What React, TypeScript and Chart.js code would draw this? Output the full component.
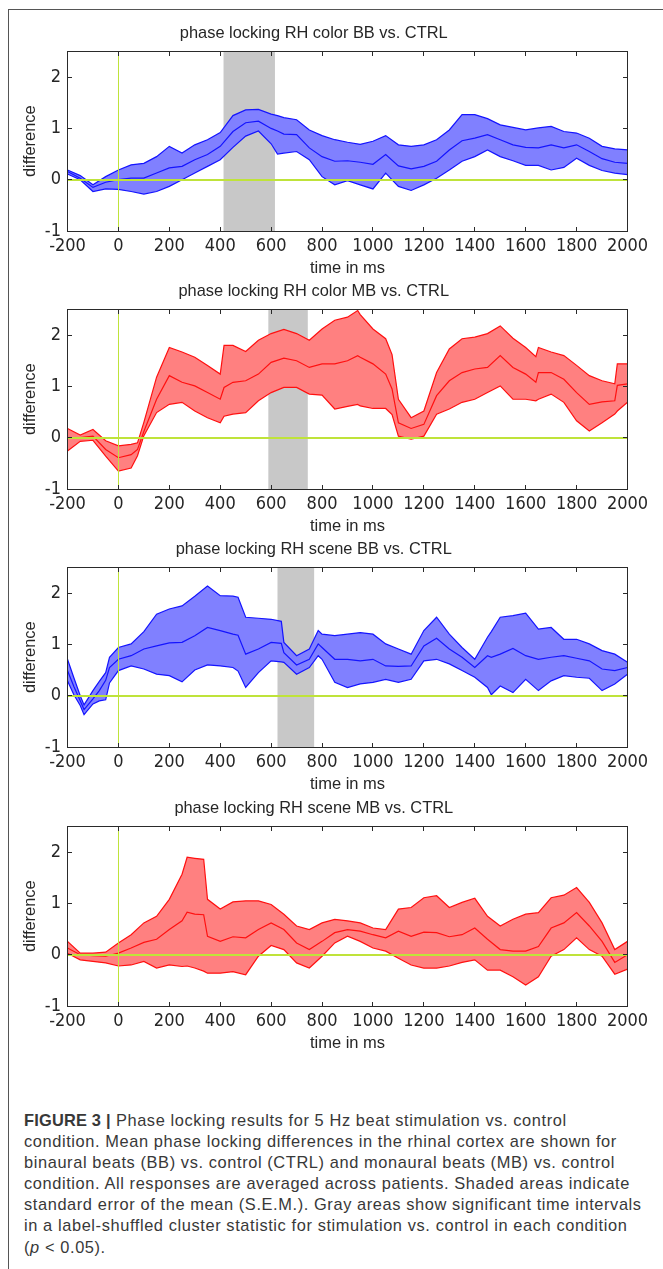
import React, { useEffect, useRef } from 'react';
import { Chart, registerables } from 'chart.js';

Chart.register(...registerables);

// ---------- data ----------
const TIMES = [
  -200, -150, -100, -50, 0, 50, 100, 150, 200, 250, 300, 350, 400, 450, 500, 550, 600, 650, 700, 750, 800, 850,
  900, 950, 1000, 1050, 1100, 1150, 1200, 1250, 1300, 1350, 1400, 1450, 1500, 1550, 1600, 1650, 1700, 1750, 1800,
  1850, 1900, 1950, 2000,
];

// Panel 1: phase locking RH color BB vs. CTRL
const P1_UPPER = [
  0.19, 0.08, -0.1, 0.06, 0.19, 0.29, 0.32, 0.45, 0.65, 0.52, 0.68, 0.78, 0.92, 1.25, 1.36, 1.37, 1.28, 1.21, 1.17,
  0.97, 0.86, 0.78, 0.73, 0.69, 0.75, 0.86, 0.68, 0.65, 0.68, 0.78, 0.97, 1.27, 1.27, 1.19, 1.07, 1.02, 0.97, 1.01,
  1.04, 0.94, 0.91, 0.81, 0.65, 0.6, 0.58,
];
const P1_MEAN = [
  0.16, 0.03, -0.15, -0.05, 0.0, 0.03, 0.03, 0.13, 0.23, 0.26, 0.39, 0.49, 0.65, 0.94, 1.11, 1.14, 1.0, 0.89, 0.88,
  0.62, 0.45, 0.36, 0.37, 0.34, 0.3, 0.49, 0.27, 0.21, 0.26, 0.36, 0.58, 0.76, 0.81, 0.88, 0.78, 0.68, 0.63, 0.62,
  0.68, 0.62, 0.68, 0.55, 0.41, 0.34, 0.32,
];
const P1_LOWER = [
  0.11, 0.0, -0.23, -0.18, -0.19, -0.23, -0.28, -0.23, -0.13, 0.0, 0.13, 0.26, 0.39, 0.63, 0.85, 0.95, 0.7, 0.52,
  0.55, 0.39, 0.06, -0.1, -0.02, -0.1, -0.18, 0.13, -0.13, -0.21, -0.1, 0.03, 0.19, 0.36, 0.45, 0.58, 0.45, 0.37,
  0.28, 0.28, 0.19, 0.24, 0.42, 0.28, 0.18, 0.13, 0.1,
];
const P1_EXTRA_TIMES = [625];
const P1_EXTRA_UPPER = [1.25];
const P1_EXTRA_MEAN = [0.95];
const P1_EXTRA_LOWER = [0.5];

// Panel 2: phase locking RH color MB vs. CTRL
const P2_UPPER = [
  0.18, 0.05, 0.16, -0.06, -0.16, -0.13, 0.3, 1.18, 1.76, 1.67, 1.57, 1.41, 1.24, 1.8, 1.68, 1.9, 2.03, 2.11, 2.03,
  1.9, 2.12, 2.29, 2.35, 2.4, 2.12, 1.93, 0.75, 0.39, 0.52, 1.27, 1.73, 1.93, 1.96, 2.03, 2.18, 1.94, 1.76, 1.76,
  1.67, 1.6, 1.41, 1.21, 1.11, 1.05, 1.44,
];
const P2_MEAN = [
  0.0, 0.0, 0.03, -0.23, -0.39, -0.33, 0.12, 0.75, 1.21, 1.08, 1.01, 0.88, 0.75, 1.08, 1.11, 1.24, 1.47, 1.55, 1.5,
  1.37, 1.44, 1.44, 1.5, 1.57, 1.44, 1.24, 0.29, 0.18, 0.26, 0.82, 1.11, 1.27, 1.34, 1.37, 1.6, 1.37, 1.24, 1.27,
  1.27, 1.14, 0.88, 0.65, 0.7, 0.72, 1.05,
];
const P2_LOWER = [
  -0.26, -0.07, -0.05, -0.36, -0.65, -0.59, 0.04, 0.49, 0.65, 0.69, 0.52, 0.39, 0.29, 0.46, 0.49, 0.72, 0.88, 0.98,
  0.98, 0.85, 0.83, 0.56, 0.61, 0.62, 0.57, 0.57, 0.03, -0.03, 0.03, 0.46, 0.56, 0.69, 0.75, 0.88, 1.01, 0.75, 0.75,
  0.75, 0.85, 0.69, 0.33, 0.13, 0.29, 0.46, 0.69,
];
const P2_EXTRA_TIMES = [75, 415, 940, 1075, 1640, 1960];
const P2_EXTRA_UPPER = [-0.1, 1.8, 2.48, 1.62, 1.58, 1.44];
const P2_EXTRA_MEAN = [-0.23, 0.98, 1.6, 0.95, 1.08, 1.02];
const P2_EXTRA_LOWER = [-0.35, 0.42, 0.65, 0.45, 0.72, 0.52];

// Panel 3: phase locking RH scene BB vs. CTRL
const P3_UPPER = [
  0.71, 0.0, 0.1, 0.45, 0.94, 1.01, 1.25, 1.59, 1.69, 1.75, 1.94, 2.14, 1.95, 1.94, 1.53, 1.51, 1.49, 1.04, 0.78,
  0.91, 1.2, 1.17, 1.2, 1.23, 1.2, 1.01, 0.91, 0.81, 1.27, 1.53, 1.2, 0.94, 0.71, 1.14, 1.53, 1.56, 1.61, 1.3, 1.33,
  1.1, 1.1, 1.01, 0.88, 0.81, 0.65,
];
const P3_MEAN = [
  0.49, -0.1, -0.06, 0.3, 0.71, 0.78, 0.91, 0.97, 1.03, 1.04, 1.17, 1.33, 1.27, 1.2, 0.81, 0.91, 1.04, 0.84, 0.6,
  0.71, 0.94, 0.71, 0.71, 0.68, 0.71, 0.58, 0.57, 0.58, 0.97, 1.12, 0.91, 0.75, 0.55, 0.78, 0.81, 0.92, 0.78, 0.71,
  0.75, 0.78, 0.73, 0.68, 0.52, 0.49, 0.55,
];
const P3_LOWER = [
  0.29, -0.19, -0.16, -0.08, 0.49, 0.58, 0.52, 0.42, 0.39, 0.27, 0.5, 0.6, 0.58, 0.55, 0.16, 0.45, 0.68, 0.65, 0.42,
  0.55, 0.71, 0.26, 0.16, 0.23, 0.26, 0.32, 0.26, 0.32, 0.68, 0.71, 0.62, 0.49, 0.36, 0.16, 0.19, 0.06, 0.32, 0.1,
  0.29, 0.39, 0.36, 0.34, 0.1, 0.23, 0.42,
];
const P3_EXTRA_TIMES = [-175, -135, -75, -35, 470, 640, 785, 1465];
const P3_EXTRA_UPPER = [0.35, -0.18, 0.28, 0.75, 1.92, 1.45, 1.27, 1.25];
const P3_EXTRA_MEAN = [0.18, -0.27, 0.1, 0.55, 1.18, 1.02, 1.01, 0.75];
const P3_EXTRA_LOWER = [0.02, -0.37, -0.1, 0.25, 0.48, 0.66, 0.78, 0.02];

// Panel 4: phase locking RH scene MB vs. CTRL
const P4_UPPER = [
  0.26, 0.03, 0.03, 0.05, 0.23, 0.39, 0.62, 0.75, 1.08, 1.57, 1.88, 1.08, 0.89, 1.03, 1.05, 1.05, 0.98, 0.79, 0.56,
  0.49, 0.62, 0.69, 0.66, 0.62, 0.52, 0.49, 0.89, 0.92, 1.11, 1.15, 0.92, 1.02, 1.1, 0.75, 0.56, 0.69, 0.79, 0.82,
  1.11, 1.16, 1.31, 1.02, 0.62, 0.1, 0.26,
];
const P4_MEAN = [
  0.13, 0.0, -0.02, -0.03, 0.03, 0.13, 0.24, 0.3, 0.49, 0.66, 0.79, 0.36, 0.26, 0.35, 0.33, 0.49, 0.62, 0.49, 0.23,
  0.1, 0.26, 0.43, 0.49, 0.46, 0.39, 0.33, 0.46, 0.36, 0.44, 0.43, 0.35, 0.39, 0.52, 0.3, 0.1, 0.07, 0.07, 0.16,
  0.52, 0.62, 0.82, 0.56, 0.26, -0.15, 0.0,
];
const P4_LOWER = [
  0.03, -0.1, -0.13, -0.16, -0.22, -0.2, -0.13, -0.26, -0.2, -0.23, -0.26, -0.36, -0.36, -0.33, -0.39, -0.03, 0.18,
  0.1, -0.16, -0.26, -0.03, 0.23, 0.36, 0.26, 0.13, 0.07, -0.07, -0.2, -0.26, -0.26, -0.22, -0.15, -0.1, -0.3, -0.3,
  -0.43, -0.59, -0.43, -0.03, 0.1, 0.33, 0.1, -0.03, -0.38, -0.28,
];
const P4_EXTRA_TIMES = [270, 335];
const P4_EXTRA_UPPER = [1.9, 1.86];
const P4_EXTRA_MEAN = [0.83, 0.78];
const P4_EXTRA_LOWER = [-0.22, -0.32];

// significant intervals (ms)
const BAND_P1 = [413, 615];
const BAND_P2 = [589, 744];
const BAND_P3 = [625, 769];

const TITLES = [
  'phase locking RH color BB vs. CTRL',
  'phase locking RH color MB vs. CTRL',
  'phase locking RH scene BB vs. CTRL',
  'phase locking RH scene MB vs. CTRL',
];
const X_MIN = -200;
const X_MAX = 2000;
const X_STEP = 200;
const Y_MIN = -1;
const Y_MAX = 2.5;
const Y_STEP = 1;
const X_LABEL = 'time in ms';
const Y_LABEL = 'difference';

// ---------- styles ----------
const BLUE_LINE = '#1414ff';
const BLUE_FILL = '#8080ff';
const RED_LINE = '#ff1010';
const RED_FILL = '#ff8080';
const GREEN = '#bfe33a';
const GRAY_BAND = '#c8c8c8';
const AXIS_COLOR = '#2a2a2a';
const TEXT_COLOR = '#262626';
const SANS = "'Liberation Sans', Arial, Helvetica, sans-serif";
const NARROW = "'Liberation Sans Narrow', 'Arial Narrow', 'DejaVu Sans Condensed', sans-serif";

const CANVAS_W = 663;
const CANVAS_H = 270;
const TICK_SIZE = 18;

const snap = (v: number) => Math.floor(v) + 0.5;

const panelDecor = {
  id: 'panelDecor',
  beforeDatasetsDraw(chart: any, _args: any, opts: any) {
    const { ctx, chartArea: a, scales } = chart;
    if (opts && opts.band) {
      const x0 = scales.x.getPixelForValue(opts.band[0]);
      const x1 = scales.x.getPixelForValue(opts.band[1]);
      ctx.save();
      ctx.fillStyle = GRAY_BAND;
      ctx.fillRect(x0, a.top, x1 - x0, a.bottom - a.top);
      ctx.restore();
    }
  },
  afterDatasetsDraw(chart: any) {
    const { ctx, chartArea: a, scales } = chart;
    const x = scales.x;
    const y = scales.y;
    ctx.save();
    const yz = y.getPixelForValue(0);
    const xz = snap(x.getPixelForValue(0));
    ctx.strokeStyle = GREEN;
    ctx.lineWidth = 2;
    ctx.beginPath();
    ctx.moveTo(a.left, Math.round(yz));
    ctx.lineTo(a.right, Math.round(yz));
    ctx.stroke();
    ctx.lineWidth = 1;
    ctx.beginPath();
    ctx.moveTo(xz, a.top);
    ctx.lineTo(xz, a.bottom);
    ctx.stroke();
    const L = snap(a.left);
    const R = snap(a.right);
    const T = snap(a.top);
    const B = snap(a.bottom);
    ctx.strokeStyle = AXIS_COLOR;
    ctx.lineWidth = 1;
    ctx.strokeRect(L, T, R - L, B - T);
    const tl = 4.5;
    ctx.beginPath();
    x.ticks.forEach((t: any) => {
      const px = snap(x.getPixelForValue(t.value));
      ctx.moveTo(px, B);
      ctx.lineTo(px, B - tl);
      ctx.moveTo(px, T);
      ctx.lineTo(px, T + tl);
    });
    y.ticks.forEach((t: any) => {
      const py = snap(y.getPixelForValue(t.value));
      ctx.moveTo(L, py);
      ctx.lineTo(L + tl, py);
      ctx.moveTo(R, py);
      ctx.lineTo(R - tl, py);
    });
    ctx.stroke();
    ctx.restore();
  },
};

function toPoints(vals: number[], extraTimes: number[], extraVals: number[]) {
  const pts = TIMES.map((t, i) => ({ x: t, y: vals[i] }));
  extraTimes.forEach((t, i) => pts.push({ x: t, y: extraVals[i] }));
  return pts.sort((a, b) => a.x - b.x);
}

type PanelProps = {
  top: number;
  title: string;
  upper: number[];
  mean: number[];
  lower: number[];
  extraTimes: number[];
  extraUpper: number[];
  extraMean: number[];
  extraLower: number[];
  line: string;
  fill: string;
  band: number[] | null;
};

function Panel(p: PanelProps) {
  const ref = useRef<HTMLCanvasElement | null>(null);
  useEffect(() => {
    if (!ref.current) return;
    const lineDs = (vals: number[], extraVals: number[], extra: any) => ({
      data: toPoints(vals, p.extraTimes, extraVals),
      borderColor: p.line,
      borderWidth: 1.2,
      pointRadius: 0,
      tension: 0,
      ...extra,
    });
    const chart = new Chart(ref.current, {
      type: 'line',
      data: {
        datasets: [
          lineDs(p.upper, p.extraUpper, { fill: '+1', backgroundColor: p.fill, order: 3 }),
          lineDs(p.lower, p.extraLower, { fill: false, order: 2 }),
          lineDs(p.mean, p.extraMean, { fill: false, order: 1 }),
        ],
      },
      options: {
        animation: false,
        responsive: false,
        devicePixelRatio: 1,
        events: [],
        layout: { padding: { left: 0, right: 35.5, top: 0, bottom: 0 } },
        plugins: {
          legend: { display: false },
          tooltip: { enabled: false },
          title: {
            display: true,
            text: p.title,
            color: TEXT_COLOR,
            font: { family: SANS, size: 16.4, weight: 'normal', lineHeight: 1.2 },
            padding: { top: 13.7, bottom: 8.1 },
          },
          panelDecor: { band: p.band },
        } as any,
        scales: {
          x: {
            type: 'linear',
            min: X_MIN,
            max: X_MAX,
            grid: { display: false, drawTicks: false },
            border: { display: false },
            ticks: {
              stepSize: X_STEP,
              autoSkip: false,
              maxRotation: 0,
              minRotation: 0,
              color: TEXT_COLOR,
              padding: 15.7 - TICK_SIZE * 0.6,
              font: { family: NARROW, size: TICK_SIZE, lineHeight: 1.2 },
              callback: (v: any) => String(v),
            },
            title: {
              display: true,
              text: X_LABEL,
              color: TEXT_COLOR,
              font: { family: SANS, size: 16.5, lineHeight: 1.2 },
              padding: { top: 0, bottom: 1.8 },
            },
            afterFit: (s: any) => {
              s.height = 49;
            },
          },
          y: {
            type: 'linear',
            min: Y_MIN,
            max: Y_MAX,
            grid: { display: false, drawTicks: false },
            border: { display: false },
            ticks: {
              stepSize: Y_STEP,
              includeBounds: false,
              color: TEXT_COLOR,
              padding: 6.5,
              font: { family: NARROW, size: TICK_SIZE, lineHeight: 1.2 },
              callback: (v: any) => String(v),
            },
            title: {
              display: true,
              text: Y_LABEL,
              color: TEXT_COLOR,
              font: { family: SANS, size: 16.4, lineHeight: 1.2 },
              padding: { top: 20.5, bottom: 0 },
            },
            afterFit: (s: any) => {
              s.width = 67.5;
            },
          },
        },
      },
      plugins: [panelDecor],
    } as any);
    return () => chart.destroy();
  }, []);
  return (
    <canvas
      ref={ref}
      width={CANVAS_W}
      height={CANVAS_H}
      style={{ position: 'absolute', left: 0, top: p.top, width: CANVAS_W, height: CANVAS_H, display: 'block' }}
    />
  );
}

const PANELS = [
  {
    top: 10,
    upper: P1_UPPER,
    mean: P1_MEAN,
    lower: P1_LOWER,
    extraTimes: P1_EXTRA_TIMES,
    extraUpper: P1_EXTRA_UPPER,
    extraMean: P1_EXTRA_MEAN,
    extraLower: P1_EXTRA_LOWER,
    line: BLUE_LINE,
    fill: BLUE_FILL,
    band: BAND_P1,
  },
  {
    top: 268,
    upper: P2_UPPER,
    mean: P2_MEAN,
    lower: P2_LOWER,
    extraTimes: P2_EXTRA_TIMES,
    extraUpper: P2_EXTRA_UPPER,
    extraMean: P2_EXTRA_MEAN,
    extraLower: P2_EXTRA_LOWER,
    line: RED_LINE,
    fill: RED_FILL,
    band: BAND_P2,
  },
  {
    top: 526,
    upper: P3_UPPER,
    mean: P3_MEAN,
    lower: P3_LOWER,
    extraTimes: P3_EXTRA_TIMES,
    extraUpper: P3_EXTRA_UPPER,
    extraMean: P3_EXTRA_MEAN,
    extraLower: P3_EXTRA_LOWER,
    line: BLUE_LINE,
    fill: BLUE_FILL,
    band: BAND_P3,
  },
  {
    top: 785,
    upper: P4_UPPER,
    mean: P4_MEAN,
    lower: P4_LOWER,
    extraTimes: P4_EXTRA_TIMES,
    extraUpper: P4_EXTRA_UPPER,
    extraMean: P4_EXTRA_MEAN,
    extraLower: P4_EXTRA_LOWER,
    line: RED_LINE,
    fill: RED_FILL,
    band: null,
  },
];

export default function App() {
  const captionStyle: React.CSSProperties = {
    position: 'absolute',
    left: 24,
    top: 1110,
    fontFamily: "'Liberation Sans', Arial, Helvetica, sans-serif",
    fontWeight: 400,
    fontSize: 16.4,
    letterSpacing: '0.6px',
    lineHeight: '21.1px',
    color: '#383838',
    whiteSpace: 'nowrap',
  };
  return (
    <div
      style={{
        position: 'absolute',
        left: 0,
        top: 0,
        width: 663,
        height: 1269,
        background: '#ffffff',
        overflow: 'hidden',
      }}
    >
      <div
        style={{
          position: 'absolute',
          left: 8,
          top: 9,
          width: 700,
          height: 1300,
          borderLeft: '1px solid #555',
          borderTop: '1px solid #555',
        }}
      />
      {PANELS.map((p, i) => (
        <Panel key={i} title={TITLES[i]} {...p} />
      ))}
      <div style={captionStyle}>
        <div>
          <span style={{ fontWeight: 700, letterSpacing: '0.2px' }}>FIGURE 3 |</span> Phase locking results for 5 Hz beat
          stimulation vs. control
        </div>
        <div>condition. Mean phase locking differences in the rhinal cortex are shown for</div>
        <div>binaural beats (BB) vs. control (CTRL) and monaural beats (MB) vs. control</div>
        <div>condition. All responses are averaged across patients. Shaded areas indicate</div>
        <div>standard error of the mean (S.E.M.). Gray areas show significant time intervals</div>
        <div>in a label-shuffled cluster statistic for stimulation vs. control in each condition</div>
        <div>
          (<i>p</i> &lt; 0.05).
        </div>
      </div>
    </div>
  );
}
